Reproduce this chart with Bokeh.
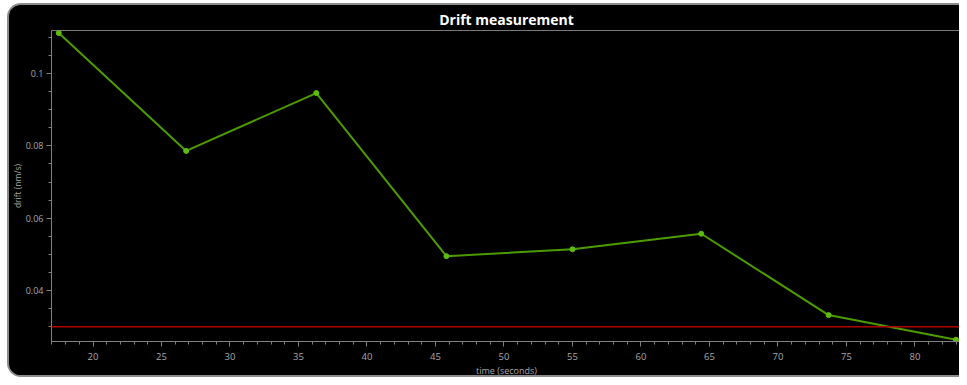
from bokeh.plotting import figure
from bokeh.layouts import column
from bokeh.models import Range1d, FixedTicker, Span, ColumnDataSource, Title
from bokeh.embed import file_html
from bokeh.resources import INLINE

time_s = [17.5, 26.8, 36.3, 45.8, 55.0, 64.4, 73.7, 83.0]
drift = [0.1112, 0.0786, 0.0946, 0.0495, 0.0514, 0.0557, 0.0332, 0.0264]
threshold = 0.03
x_ticks = [20, 25, 30, 35, 40, 45, 50, 55, 60, 65, 70, 75, 80]
y_ticks = [0.04, 0.06, 0.08, 0.1]
y_labels = ["0.04", "0.06", "0.08", "0.1"]
title_text = "Drift measurement"
x_title = "time (seconds)"
y_title = "drift (nm/s)"

FONT = "Open Sans"
GRAY = "#808080"
LABEL = "#a8a8a8"

X0, X1 = 16.97, 83.4
Y0, Y1 = 0.0259, 0.1119

p = figure(width=952, height=374, output_backend="svg", toolbar_location=None,
           x_range=Range1d(X0, X1), y_range=Range1d(Y0, Y1),
           margin=(3, 0, 0, 7),
           min_border_left=41, min_border_right=0, min_border_top=25, min_border_bottom=38)

p.styles = {"border-top": "2px solid #8c8c8c", "border-left": "2px solid #8c8c8c",
            "border-bottom": "2px solid #8c8c8c", "border-radius": "14px 0 0 14px",
            "box-sizing": "border-box", "overflow": "hidden", "background": "#000000"}

p.background_fill_color = "#000000"
p.border_fill_color = "#000000"
p.outline_line_color = "#7a7a7a"
p.outline_line_width = 1
p.grid.visible = False

src = ColumnDataSource(dict(x=time_s, y=drift))
p.line("x", "y", source=src, line_color="#4c9c00", line_width=2)
p.scatter("x", "y", source=src, size=5, fill_color="#5cbc10", line_color="#5cbc10")

p.add_layout(Span(location=threshold, dimension="width", line_color="#b00000", line_width=1.5))

for ax in (p.xaxis[0], p.yaxis[0]):
    ax.axis_line_color = GRAY
    ax.major_tick_line_color = GRAY
    ax.minor_tick_line_color = GRAY
    ax.major_tick_in = 0
    ax.major_tick_out = 5
    ax.minor_tick_in = 0
    ax.minor_tick_out = 3
    ax.major_label_text_color = LABEL
    ax.major_label_text_font = FONT
    ax.major_label_text_font_size = "9.5px"
    ax.axis_label_text_color = LABEL
    ax.axis_label_text_font = FONT
    ax.axis_label_text_font_size = "9px"
    ax.axis_label_text_font_style = "normal"

p.yaxis.major_label_text_font_size = "9px"
p.xaxis.ticker = FixedTicker(ticks=x_ticks, minor_ticks=list(range(17, 84)))
p.yaxis.ticker = FixedTicker(ticks=y_ticks, minor_ticks=[0.03 + 0.005 * i for i in range(17)])
p.yaxis.major_label_overrides = {t: l for t, l in zip(y_ticks, y_labels)}
p.xaxis.axis_label = x_title
p.xaxis.major_label_standoff = 6
p.xaxis.axis_label_standoff = 1
p.yaxis.major_label_standoff = 3

p.add_layout(Title(text=title_text, align="center", text_color="#ffffff", text_font=FONT,
                   text_font_size="14px", text_font_style="bold", standoff=3), "above")
p.add_layout(Title(text=y_title, align="center", text_color=LABEL, text_font=FONT,
                   text_font_size="8.5px", text_font_style="normal", standoff=0), "left")

root = column(p, styles={"background": "#ffffff"})
open("out.html", "w").write(file_html(root, INLINE))
